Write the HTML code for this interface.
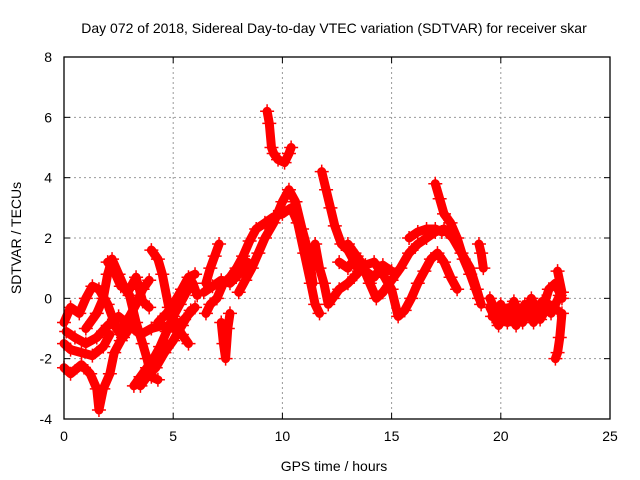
<!DOCTYPE html>
<html><head><meta charset="utf-8"><style>
body{margin:0;background:#fff;}
svg{display:block;font-family:"Liberation Sans",sans-serif;}
</style></head><body>
<svg id="chart" width="640" height="480">
<text x="334" y="33" font-size="14" text-anchor="middle" fill="#000">Day 072 of 2018, Sidereal Day-to-day VTEC variation (SDTVAR) for receiver skar</text>
<text x="334" y="471" font-size="14" text-anchor="middle">GPS time / hours</text>
<text transform="translate(21,238) rotate(-90)" font-size="14" text-anchor="middle">SDTVAR / TECUs</text>
<g id="grid"></g><g id="marks"></g><g id="ticks"></g>
<rect x="64" y="57" width="546" height="362" fill="none" stroke="#000" stroke-width="1.3"/>
</svg>
<script>
const xTicks=[0,5,10,15,20,25];
const yTicks=[-4,-2,0,2,4,6,8];
const tracks=[
[[0,-1.5],[0.3,-1.7],[0.8,-1.8],[1.3,-1.9],[1.8,-1.6],[2.1,-1.2]],
[[0,-0.8],[0.3,-0.3],[0.7,-0.5],[1.0,0],[1.3,0.4],[1.6,0.3],[2.0,-0.2],[2.4,-1.0],[2.7,-1.3],[3.0,-1.0]],
[[0,-2.3],[0.3,-2.5],[0.8,-2.2],[1.2,-2.5],[1.5,-3.0],[1.6,-3.7],[1.8,-3.0],[2.1,-2.5],[2.3,-1.8],[2.6,-1.4]],
[[1.0,-1.0],[1.5,-0.5],[1.8,0.0],[2.0,0.8],[2.2,1.3],[2.5,0.8],[2.8,0.3],[3.0,0.1],[3.3,-0.8],[3.6,-1.5],[3.8,-2.0],[4.0,-2.6],[4.3,-2.7]],
[[2.0,1.2],[2.3,0.9],[2.6,0.4],[3.0,0.3],[3.3,0.7],[3.6,-0.1],[3.9,-0.3]],
[[4.0,1.6],[4.3,1.3],[4.5,0.8],[4.8,-0.3],[5.1,-0.8],[5.4,-1.2],[5.7,-1.5]],
[[3.2,-2.9],[3.5,-2.6],[3.8,-2.3],[4.1,-2.0],[4.4,-1.6],[4.7,-1.1],[5.0,-0.6],[5.3,-0.2],[5.6,0.2],[5.9,0.5],[6.1,0.1]],
[[2.7,-0.9],[3.0,-0.6],[3.3,-0.2],[3.6,0.3],[3.9,0.6]],
[[4.3,-0.8],[4.7,-0.5],[5.0,-0.2],[5.4,0.3],[5.7,0.7],[6.0,0.8]],
[[0.1,-1.1],[0.5,-1.3],[1.0,-1.5],[1.5,-1.3],[2.0,-0.9],[2.5,-0.6],[3.0,-0.9],[3.5,-1.2],[4.0,-1.0],[4.5,-0.9],[5.0,-1.0],[5.5,-0.7],[6.0,-0.3]],
[[3.5,-2.9],[3.9,-2.5],[4.2,-2.3],[4.6,-1.8],[5.0,-1.4],[5.4,-0.9],[5.8,-0.4]],
[[6.5,-0.5],[6.7,-0.2],[7.0,0],[7.3,0.5],[7.6,0.7],[7.9,1.0],[8.2,1.4],[8.5,1.9],[8.8,2.3],[9.2,2.5],[9.6,2.7],[10.0,2.8],[10.4,3.0],[10.7,2.5],[11.0,1.5],[11.3,0.5],[11.5,-0.2],[11.7,-0.5]],
[[6.5,0.5],[6.7,1.0],[6.9,1.4],[7.1,1.8]],
[[6.4,0.2],[6.8,0.4],[7.2,0.6],[7.6,0.5],[8.0,0.8],[8.4,1.2]],
[[7.2,-0.8],[7.3,-1.5],[7.4,-2.0],[7.5,-1.0],[7.6,-0.5]],
[[8.0,0.2],[8.3,0.6],[8.6,1.0],[8.9,1.5],[9.2,2.0],[9.6,2.5],[10.0,3.2],[10.3,3.6],[10.6,3.2],[10.9,2.3],[11.2,1.5],[11.4,0.5]],
[[9.3,6.2],[9.4,5.8],[9.5,5.0],[9.6,4.8],[9.8,4.6],[10.1,4.5],[10.3,4.8],[10.4,5.0]],
[[11.8,4.2],[12.0,3.6],[12.2,3.0],[12.4,2.4],[12.7,1.8],[13.0,1.6],[13.3,1.2],[13.5,0.9]],
[[11.5,1.8],[11.7,1.0],[11.9,0.5],[12.1,-0.2],[12.3,0],[12.6,0.3],[13.0,0.5],[13.4,0.8],[13.8,1.1],[14.2,1.2],[14.6,0.8],[15.0,0.3],[15.3,-0.6],[15.6,-0.4],[15.9,0],[16.2,0.5],[16.5,0.9],[16.8,1.3],[17.1,1.5],[17.4,1.2],[17.7,0.7],[18.0,0.3]],
[[13.0,1.8],[13.3,1.5],[13.6,1.2],[14.0,0.5],[14.3,0.0],[14.6,0.2],[15.0,0.6],[15.4,1.0],[15.8,1.5],[16.2,1.8],[16.6,2.0],[17.0,2.2],[17.4,2.3],[17.8,2.0],[18.2,1.5],[18.6,1.0],[18.9,0.3],[19.1,-0.2]],
[[12.6,1.2],[13.0,1.0],[13.4,1.4],[13.8,0.9],[14.2,0.7],[14.6,1.1],[15.0,0.9]],
[[15.8,2.0],[16.2,2.2],[16.6,2.3],[17.0,2.3],[17.3,2.2]],
[[17.0,3.8],[17.2,3.3],[17.4,2.8],[17.7,2.5],[18.0,2.0],[18.3,1.3],[18.6,0.8],[19.0,0]],
[[19.0,1.8],[19.1,1.5],[19.2,1.0]],
[[19.5,0],[19.8,-0.5],[20.1,-0.6],[20.4,-0.3],[20.7,-0.5],[21.0,-0.3],[21.3,-0.5],[21.6,-0.2],[21.9,-0.4],[22.2,0.3],[22.5,0.5],[22.8,0]],
[[19.6,-0.6],[20.0,-0.2],[20.3,-0.8],[20.6,-0.1],[21.0,-0.8],[21.4,0],[21.8,-0.7],[22.2,-0.2],[22.6,-0.4]],
[[19.5,-0.3],[19.9,-0.9],[20.3,-0.4],[20.7,-0.9],[21.1,-0.2],[21.5,-0.8],[21.9,-0.1],[22.3,-0.5],[22.7,0.1]],
[[22.8,-0.5],[22.7,-1.3],[22.6,-1.8],[22.5,-2.0]],
[[22.6,0.9],[22.8,0.2]]
];
const NS='http://www.w3.org/2000/svg';
const X0=64,X1=610,Y0=419,Y1=57;
function sx(h){return X0+(h-0)/25*(X1-X0);}
function sy(v){return Y0-(v+4)/12*(Y0-Y1);}
const grid=document.getElementById('grid'),ticks=document.getElementById('ticks'),marks=document.getElementById('marks');
function mk(tag,attrs,parent){const e=document.createElementNS(NS,tag);for(const k in attrs)e.setAttribute(k,attrs[k]);parent.appendChild(e);return e;}
xTicks.forEach(t=>{const x=sx(t);
 if(t>0&&t<25){const g=mk('line',{x1:x,x2:x,y1:Y1,y2:Y0,stroke:'#999','stroke-dasharray':'2,3'},grid);
 
 }
 mk('line',{x1:x,x2:x,y1:Y0,y2:Y0-6,stroke:'#000'},ticks);mk('line',{x1:x,x2:x,y1:Y1,y2:Y1+6,stroke:'#000'},ticks);
 const l=mk('text',{x:x,y:Y0+22,'font-size':14,'text-anchor':'middle'},ticks);l.textContent=t;
 
 });
yTicks.forEach(t=>{const y=sy(t);
 if(t>-4&&t<8){const g=mk('line',{x1:X0,x2:X1,y1:y,y2:y,stroke:'#999','stroke-dasharray':'2,3'},grid);
 
 }
 mk('line',{x1:X0,x2:X0+6,y1:y,y2:y,stroke:'#000'},ticks);mk('line',{x1:X1,x2:X1-6,y1:y,y2:y,stroke:'#000'},ticks);
 const l=mk('text',{x:X0-12,y:y+5,'font-size':14,'text-anchor':'end'},ticks);l.textContent=t;
 
 });
tracks.forEach((tr,i)=>{
 const p=mk('polyline',{points:tr.map(d=>sx(d[0])+','+sy(d[1])).join(' '),fill:'none',stroke:'#f00','stroke-width':9,'stroke-linejoin':'round','stroke-linecap':'round'},marks);
 
 
 tr.forEach(d=>{const x=sx(d[0]),y=sy(d[1]);
  const m=mk('path',{d:`M${x-7},${y}H${x+7}M${x},${y-7}V${y+7}`,stroke:'#f00','stroke-width':1.5},marks);
  
  });
});
</script>
</body></html>
